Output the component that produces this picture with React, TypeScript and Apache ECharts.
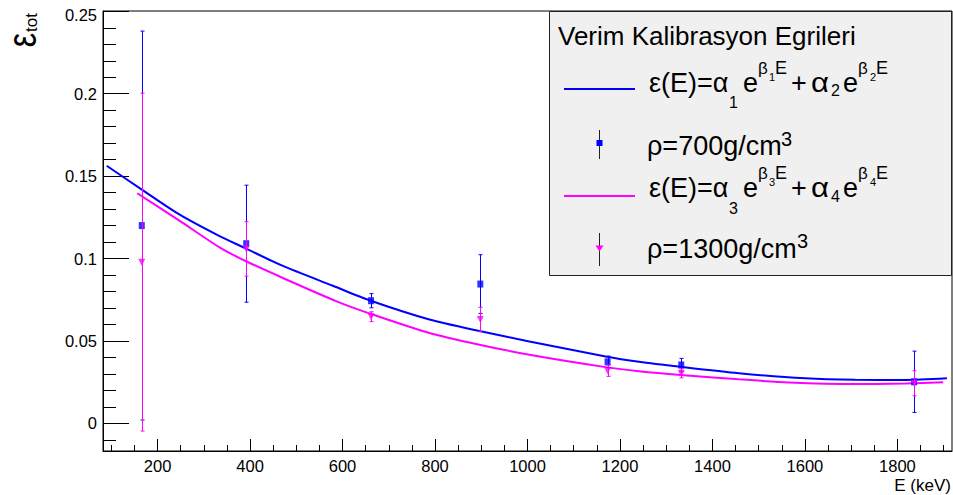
import React, { useEffect, useRef } from 'react';
import * as echarts from 'echarts';

// ---- data ----
const energies = [165.86, 391.7, 661.66, 898.0, 1173.2, 1332.5, 1836.1];
const eff700 = [0.12, 0.109, 0.0744, 0.0845, 0.0373, 0.0354, 0.0252];
const err700 = [0.118, 0.0355, 0.0043, 0.0178, 0.0035, 0.004, 0.0186];
const eff1300 = [0.0978, 0.1058, 0.0647, 0.063, 0.0319, 0.0303, 0.0243];
const err1300 = [0.1025, 0.0165, 0.003, 0.0074, 0.0034, 0.0027, 0.0076];

const fit700E = [90, 162, 248, 334, 388, 471, 579, 658, 788, 896, 1004, 1169, 1241, 1331, 1457, 1601, 1709, 1817, 1907];
const fit700V = [0.1563, 0.1426, 0.1266, 0.1136, 0.1065, 0.0955, 0.0835, 0.0747, 0.063, 0.056, 0.0497, 0.0406, 0.0374, 0.0343, 0.0304, 0.0273, 0.0264, 0.0263, 0.0273];
const fit1300E = [156, 248, 334, 388, 471, 590, 658, 788, 896, 1004, 1169, 1241, 1331, 1457, 1565, 1709, 1817, 1899];
const fit1300V = [0.1396, 0.1228, 0.1068, 0.0988, 0.0882, 0.0737, 0.0667, 0.0548, 0.0477, 0.0416, 0.0341, 0.0316, 0.0293, 0.0267, 0.0248, 0.0238, 0.0242, 0.0249];

const xMajorTicks = [200, 400, 600, 800, 1000, 1200, 1400, 1600, 1800];
const xMinorTicks = [100, 150, 250, 300, 350, 450, 500, 550, 650, 700, 750, 850, 900, 950, 1050, 1100, 1150, 1250, 1300, 1350, 1450, 1500, 1550, 1650, 1700, 1750, 1850, 1900];
const yMajorTicks = [0, 0.05, 0.1, 0.15, 0.2, 0.25];
const yMinorTicks = [-0.01, 0.01, 0.02, 0.03, 0.04, 0.06, 0.07, 0.08, 0.09, 0.11, 0.12, 0.13, 0.14, 0.16, 0.17, 0.18, 0.19, 0.21, 0.22, 0.23, 0.24];

const X_MIN = 82;
const X_MAX = 1918;
const Y_MIN = -0.0168;
const Y_MAX = 0.2502;

const FONT = '"Liberation Sans", Arial, Helvetica, sans-serif';
const BLUE = '#0000ff';
const MAGENTA = '#ff00ff';

const pairs = (xs: number[], ys: number[]) => xs.map((x, i) => [x, ys[i]]);
const triples = (xs: number[], ys: number[], es: number[]) => xs.map((x, i) => [x, ys[i], es[i]]);

const errRender = (color: string) => (params: any, api: any) => {
  const x = api.value(0);
  const y = api.value(1);
  const e = api.value(2);
  const p1 = api.coord([x, y + e]);
  const p2 = api.coord([x, y - e]);
  const cx = Math.round(p1[0]) + 0.5;
  const st = { stroke: color, lineWidth: 1 };
  return {
    type: 'group',
    children: [
      { type: 'line', shape: { x1: cx, y1: p1[1], x2: cx, y2: p2[1] }, style: st },
      { type: 'line', shape: { x1: cx - 2, y1: p1[1], x2: cx + 2, y2: p1[1] }, style: st },
      { type: 'line', shape: { x1: cx - 2, y1: p2[1], x2: cx + 2, y2: p2[1] }, style: st },
    ],
  };
};

const txt = (text: string, x: number, y: number, fontSize: number, extra: any = {}) => ({
  type: 'text',
  x,
  y,
  z: 110,
  ...extra,
  style: {
    text,
    fontSize,
    fontFamily: FONT,
    fill: '#000',
    align: extra.align || 'left',
    textAlign: extra.align || 'left',
    verticalAlign: 'middle',
    textVerticalAlign: 'middle',
  },
});

function formulaPieces(y0: number, subA: string, subB: string, subAy: number, subBy: number) {
  const M = 27;
  return [
    txt('ε(E)=α', 649, y0, M),
    txt(subA, 729, subAy, 16),
    txt('e', 743, y0, M),
    txt('β', 758, y0 - 15, 17),
    txt(subA, 769, y0 - 6, 11),
    txt('E', 775, y0 - 15, 18),
    txt('+', 791, y0, M),
    txt('α', 811, y0, M, { scaleX: 1.15 }),
    txt(subB, 831, subBy, 16),
    txt('e', 843, y0, M),
    txt('β', 858, y0 - 15, 17),
    txt(subB, 870, y0 - 6, 11),
    txt('E', 876, y0 - 15, 18),
  ];
}

function buildOption() {
  const axisBase = { type: 'value', min: X_MIN, max: X_MAX, splitLine: { show: false } };
  const yBase = { type: 'value', min: Y_MIN, max: Y_MAX, splitLine: { show: false } };
  return {
    animation: false,
    backgroundColor: '#ffffff',
    grid: { left: 103, right: 1, top: 11, bottom: 44, show: true, borderColor: '#000', borderWidth: 1 },
    xAxis: [
      {
        ...axisBase,
        position: 'bottom',
        axisLine: { show: true, onZero: false, lineStyle: { color: '#000', width: 1 } },
        axisTick: { show: true, inside: true, length: 12, customValues: xMajorTicks, lineStyle: { color: '#000' } },
        axisLabel: {
          customValues: xMajorTicks,
          fontSize: 16.5,
          color: '#000',
          fontFamily: FONT,
          margin: 6,
          formatter: (v: number) => String(v),
        },
      },
      {
        ...axisBase,
        position: 'bottom',
        axisLine: { show: false, onZero: false },
        axisTick: { show: true, inside: true, length: 6, customValues: xMinorTicks, lineStyle: { color: '#000' } },
        axisLabel: { show: false },
      },
    ],
    yAxis: [
      {
        ...yBase,
        position: 'left',
        axisLine: { show: true, onZero: false, lineStyle: { color: '#000', width: 1 } },
        axisTick: { show: true, inside: true, length: 26, customValues: yMajorTicks, lineStyle: { color: '#000' } },
        axisLabel: {
          customValues: yMajorTicks,
          fontSize: 16.5,
          color: '#000',
          fontFamily: FONT,
          margin: 6,
          formatter: (v: number) => (Math.abs(v - 0.25) < 1e-9 ? '{t|0.25}' : String(Math.round(v * 1000) / 1000)),
          rich: { t: { fontSize: 16.5, color: '#000', fontFamily: FONT, padding: [8, 0, 0, 0] } },
        },
      },
      {
        ...yBase,
        position: 'left',
        axisLine: { show: false, onZero: false },
        axisTick: { show: true, inside: true, length: 13, customValues: yMinorTicks, lineStyle: { color: '#000' } },
        axisLabel: { show: false },
      },
    ],
    series: [
      {
        type: 'line',
        data: pairs(fit700E, fit700V),
        smooth: 0.25,
        showSymbol: false,
        symbol: 'none',
        lineStyle: { color: BLUE, width: 2 },
        z: 2,
      },
      {
        type: 'line',
        data: pairs(fit1300E, fit1300V),
        smooth: 0.25,
        showSymbol: false,
        symbol: 'none',
        lineStyle: { color: MAGENTA, width: 2 },
        z: 2,
      },
      {
        type: 'custom',
        renderItem: errRender(BLUE),
        data: triples(energies, eff700, err700),
        encode: { x: 0, y: 1 },
        z: 3,
      },
      {
        type: 'scatter',
        data: pairs(energies, eff700),
        symbol: 'rect',
        symbolSize: [6, 7],
        itemStyle: { color: BLUE },
        z: 4,
      },
      {
        type: 'custom',
        renderItem: errRender(MAGENTA),
        data: triples(energies, eff1300, err1300),
        encode: { x: 0, y: 1 },
        z: 5,
      },
      {
        type: 'scatter',
        data: pairs(energies, eff1300),
        symbol: 'triangle',
        symbolRotate: 180,
        symbolSize: 7,
        itemStyle: { color: MAGENTA },
        z: 6,
      },
    ],
    graphic: [
      // legend box
      {
        type: 'rect',
        z: 100,
        shape: { x: 549.5, y: 11.5, width: 402, height: 264 },
        style: { fill: '#f0f0f0', stroke: '#222', lineWidth: 1 },
      },
      txt('Verim Kalibrasyon Egrileri', 558, 36, 26),
      { type: 'line', z: 110, shape: { x1: 564, y1: 89, x2: 635, y2: 89 }, style: { stroke: BLUE, lineWidth: 2 } },
      ...formulaPieces(83, '1', '2', 102.5, 90),
      { type: 'line', z: 110, shape: { x1: 599.5, y1: 130, x2: 599.5, y2: 159 }, style: { stroke: '#222', lineWidth: 1 } },
      { type: 'rect', z: 111, shape: { x: 596.5, y: 140, width: 6, height: 6 }, style: { fill: BLUE } },
      txt('ρ=700g/cm', 647, 146, 27),
      txt('3', 781, 139, 20),
      { type: 'line', z: 110, shape: { x1: 564, y1: 196, x2: 635, y2: 196 }, style: { stroke: MAGENTA, lineWidth: 2 } },
      ...formulaPieces(188, '3', '4', 208.3, 196),
      { type: 'line', z: 110, shape: { x1: 599.5, y1: 233, x2: 599.5, y2: 266 }, style: { stroke: '#222', lineWidth: 1 } },
      {
        type: 'polygon',
        z: 111,
        shape: { points: [[595.5, 245.5], [603.5, 245.5], [599.5, 251.5]] },
        style: { fill: MAGENTA },
      },
      txt('ρ=1300g/cm', 647, 249, 27),
      txt('3', 797, 241, 20),
      // axis titles
      txt('E (keV)', 951, 485, 17, { align: 'right' }),
      txt('ε', 22, 40, 40, { align: 'center', rotation: Math.PI / 2, scaleX: 0.8 }),
      txt('tot', 31, 22.5, 17, { align: 'center', rotation: Math.PI / 2 }),
    ],
  };
}

export default function App() {
  const ref = useRef<HTMLDivElement>(null);
  useEffect(() => {
    if (!ref.current) return;
    const chart = echarts.init(ref.current, null, { renderer: 'svg' });
    chart.setOption(buildOption() as any);
    return () => chart.dispose();
  }, []);
  return (
    <div
      ref={ref}
      style={{ position: 'fixed', left: 0, top: 0, width: 953, height: 495, background: '#fff' }}
    />
  );
}
